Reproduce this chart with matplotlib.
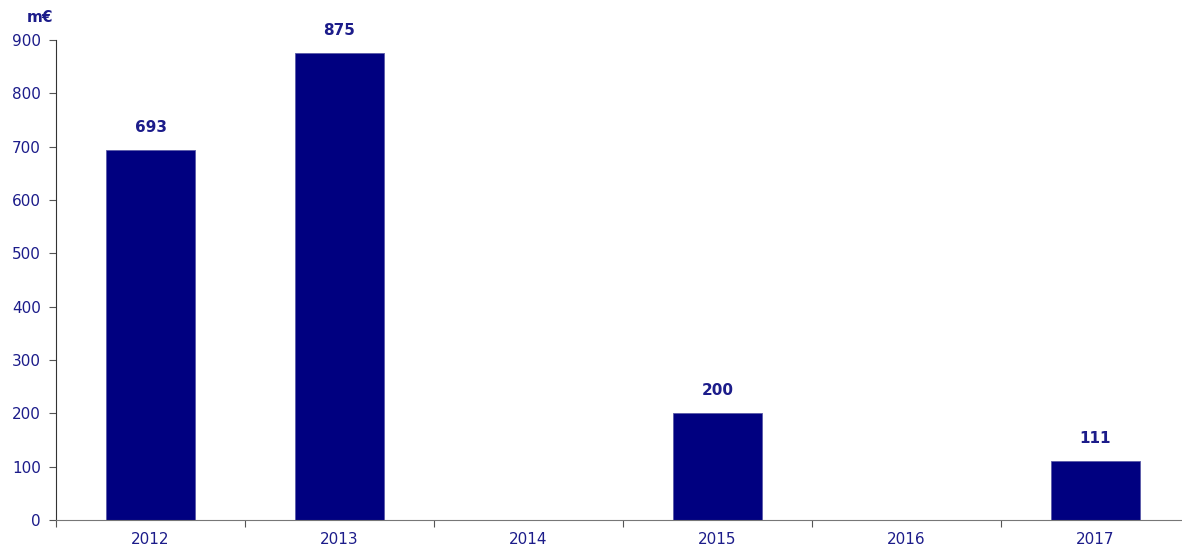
import numpy as np
import matplotlib.pyplot as plt

plt.rcParams['font.family'] = ['DejaVu Sans']

# data
years = ['2012', '2013', '2014', '2015', '2016', '2017']
values = [693, 875, 0, 200, 0, 111]

bar_color = '#000080'
text_color = '#1c1c8a'

fig = plt.figure(figsize=(11.82, 5.48), dpi=100)
ax = fig.add_axes([56 / 1182, 28 / 548, 1134 / 1182, 480 / 548])

x = np.arange(len(years))
ax.bar(x, values, width=0.466, color=bar_color, edgecolor='#5a5aa8', linewidth=0.6, zorder=2)

# value labels on top of the non-empty bars
for xi, v in zip(x, values):
    if v > 0:
        ax.annotate(str(v), (xi, v), xytext=(0, 11), textcoords='offset points',
                    ha='center', va='bottom', fontsize=11, fontweight='bold', color=text_color)

ax.set_xlim(-0.5, len(years) - 0.5)
ax.set_ylim(0, 900)
ax.set_yticks(np.arange(0, 901, 100))

# category ticks between bars, labels centred under bars
ax.set_xticks(np.arange(-0.5, len(years) + 0.5, 1))
ax.set_xticklabels([])
ax.set_xticks(x, minor=True)
ax.set_xticklabels(years, minor=True)
ax.tick_params(axis='x', which='minor', length=0, pad=9, labelsize=11, labelcolor=text_color)
ax.tick_params(axis='x', which='major', length=5, direction='out', color='#555555')
ax.tick_params(axis='y', length=5, direction='out', color='#555555', labelsize=11,
               labelcolor=text_color, pad=6)

for s in ['top', 'right']:
    ax.spines[s].set_visible(False)
ax.spines['left'].set_color('#333333')
ax.spines['bottom'].set_color('#777777')

fig.text(40 / 1182, 1 - 17 / 548, 'm€', ha='center', va='center', fontsize=11,
         fontweight='bold', color=text_color)

plt.savefig('out.png', dpi=100)
